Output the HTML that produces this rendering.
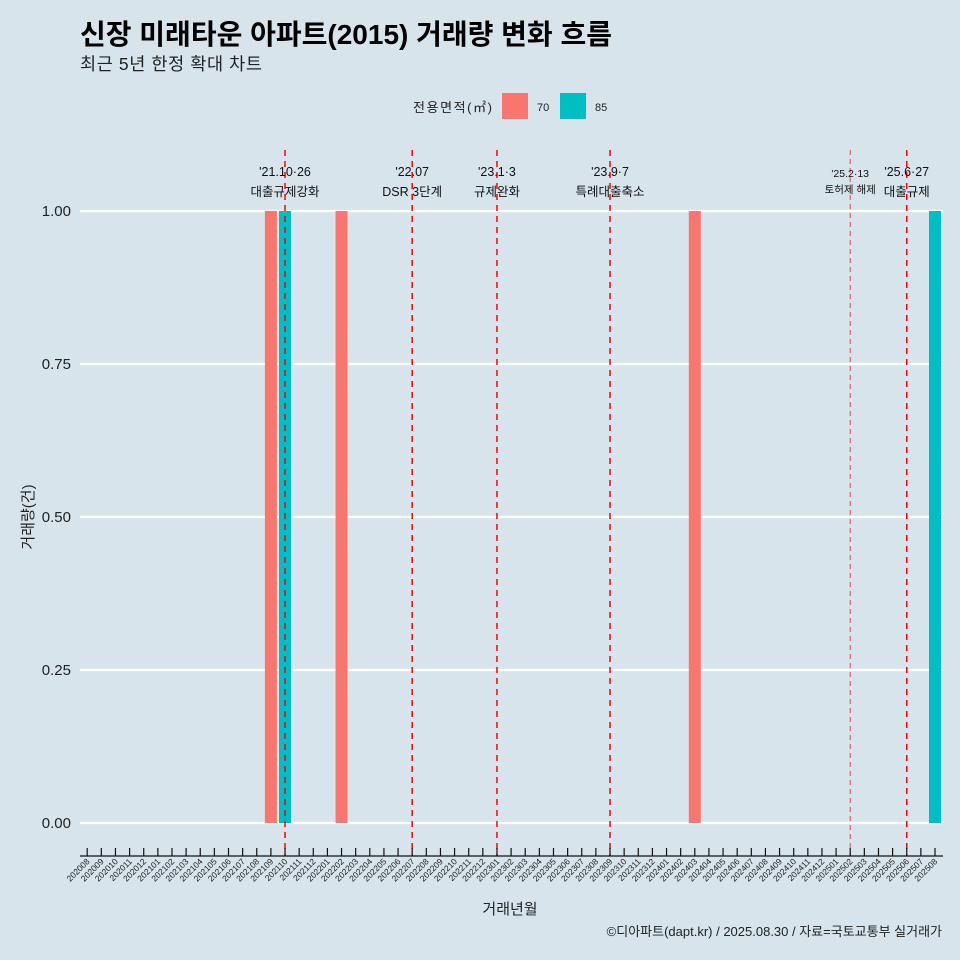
<!DOCTYPE html>
<html><head><meta charset="utf-8"><style>
html,body{margin:0;padding:0;background:#d7e4eb;}
svg{display:block;font-family:"Liberation Sans","Noto Sans CJK KR",sans-serif;}
</style></head><body>
<svg id="chart" width="960" height="960" viewBox="0 0 960 960" xmlns="http://www.w3.org/2000/svg">
<rect width="960" height="960" fill="#d7e4eb"/>
<text x="80" y="44" font-size="28" font-weight="bold" fill="#000" textLength="532">신장 미래타운 아파트(2015) 거래량 변화 흐름</text>
<text x="80" y="70" font-size="17.5" fill="#222" textLength="182">최근 5년 한정 확대 차트</text>
<g>
<text x="413" y="112" font-size="13" fill="#222" textLength="79">전용면적(㎡)</text>
<rect x="502" y="93" width="26" height="26" fill="#f8766d"/>
<text x="537" y="111" font-size="11" fill="#222">70</text>
<rect x="560" y="93" width="26" height="26" fill="#00bfc4"/>
<text x="595" y="111" font-size="11" fill="#222">85</text>
</g>
<g id="grid"></g>
<g id="bars"></g>
<g id="vlines"></g>
<g id="axes"></g>
<text x="510" y="914" font-size="15" text-anchor="middle" fill="#222">거래년월</text>
<text transform="translate(33,517) rotate(-90)" font-size="15" text-anchor="middle" fill="#222">거래량(건)</text>
<text x="942" y="936" font-size="13" text-anchor="end" fill="#222">©디아파트(dapt.kr) / 2025.08.30 / 자료=국토교통부 실거래가</text>
</svg>
<script>
const categories=[];
for(let y=2020;y<=2025;y++){for(let m=1;m<=12;m++){const k=y*100+m;if(k>=202008&&k<=202508)categories.push(String(k));}}
const seriesNames=["70","85"];
const seriesColors=["#f8766d","#00bfc4"];
const barMonths=["202109","202110","202202","202403","202508"];
const barSeries=["70","85","70","70","85"];
const barValues=[1,1,1,1,1];
const yTicks=[0,0.25,0.5,0.75,1];
const yTickLabels=["0.00","0.25","0.50","0.75","1.00"];
const eventMonths=["202110","202207","202301","202309","202502","202506"];
const eventDates=["'21.10·26","'22.07","'23.1·3","'23.9·7","'25.2·13","'25.6·27"];
const eventLabels=["대출규제강화","DSR 3단계","규제완화","특례대출축소","토허제 해제","대출규제"];
const eventMinor=[false,false,false,false,true,false];

const NS="http://www.w3.org/2000/svg";
function mk(tag,attrs,parent){const e=document.createElementNS(NS,tag);for(const k in attrs)e.setAttribute(k,attrs[k]);parent.appendChild(e);return e;}
const x0=87.2, step=14.13, bw=12;
function xScale(c){return x0+categories.indexOf(c)*step;}
function yScale(v){return 823-v*612;}
const grid=document.getElementById('grid'),bars=document.getElementById('bars'),vl=document.getElementById('vlines'),ax=document.getElementById('axes');
yTicks.forEach((t,i)=>{
 const l=mk('line',{x1:80,x2:943,y1:yScale(t),y2:yScale(t),stroke:'#fff','stroke-width':2.2},grid);
 
 
 const tx=mk('text',{x:71,y:yScale(t)+5,'font-size':15,'text-anchor':'end',fill:'#222'},ax);
 tx.textContent=yTickLabels[i];
 
 
});
barMonths.forEach((m,i)=>{
 const si=seriesNames.indexOf(barSeries[i]);
 const r=mk('rect',{x:xScale(m)-bw/2,y:yScale(barValues[i]),width:bw,height:yScale(0)-yScale(barValues[i]),fill:seriesColors[si]},bars);
 
 
});
eventMonths.forEach((m,i)=>{
 const x=xScale(m),minor=eventMinor[i];
 const l=mk('line',{x1:x,x2:x,y1:150,y2:856,stroke:minor?'#e8474a':'#ff0000','stroke-width':minor?1:1.5,'stroke-dasharray':minor?'5,4':'6,5'},vl);
 
 
 const fs=minor?10.5:12.5;
 const t1=mk('text',{x:x,y:minor?177:176,'font-size':fs,'text-anchor':'middle',fill:'#111'},vl);
 t1.textContent=eventDates[i];
 
 
 const t2=mk('text',{x:x,y:minor?193:196,'font-size':fs,'text-anchor':'middle',fill:'#111'},vl);
 t2.textContent=eventLabels[i];
 
 
});
const axl=mk('line',{x1:80,x2:943,y1:856,y2:856,stroke:'#111','stroke-width':1.2},ax);


categories.forEach(c=>{
 const x=xScale(c);
 const tk=mk('line',{x1:x,x2:x,y1:848,y2:856,stroke:'#111','stroke-width':1.2},ax);
 
 
 const t=mk('text',{transform:'translate('+(x+3)+',862) rotate(-45)','font-size':8.5,'text-anchor':'end',fill:'#222'},ax);
 t.textContent=c;
 
 
});
</script>
</body></html>
